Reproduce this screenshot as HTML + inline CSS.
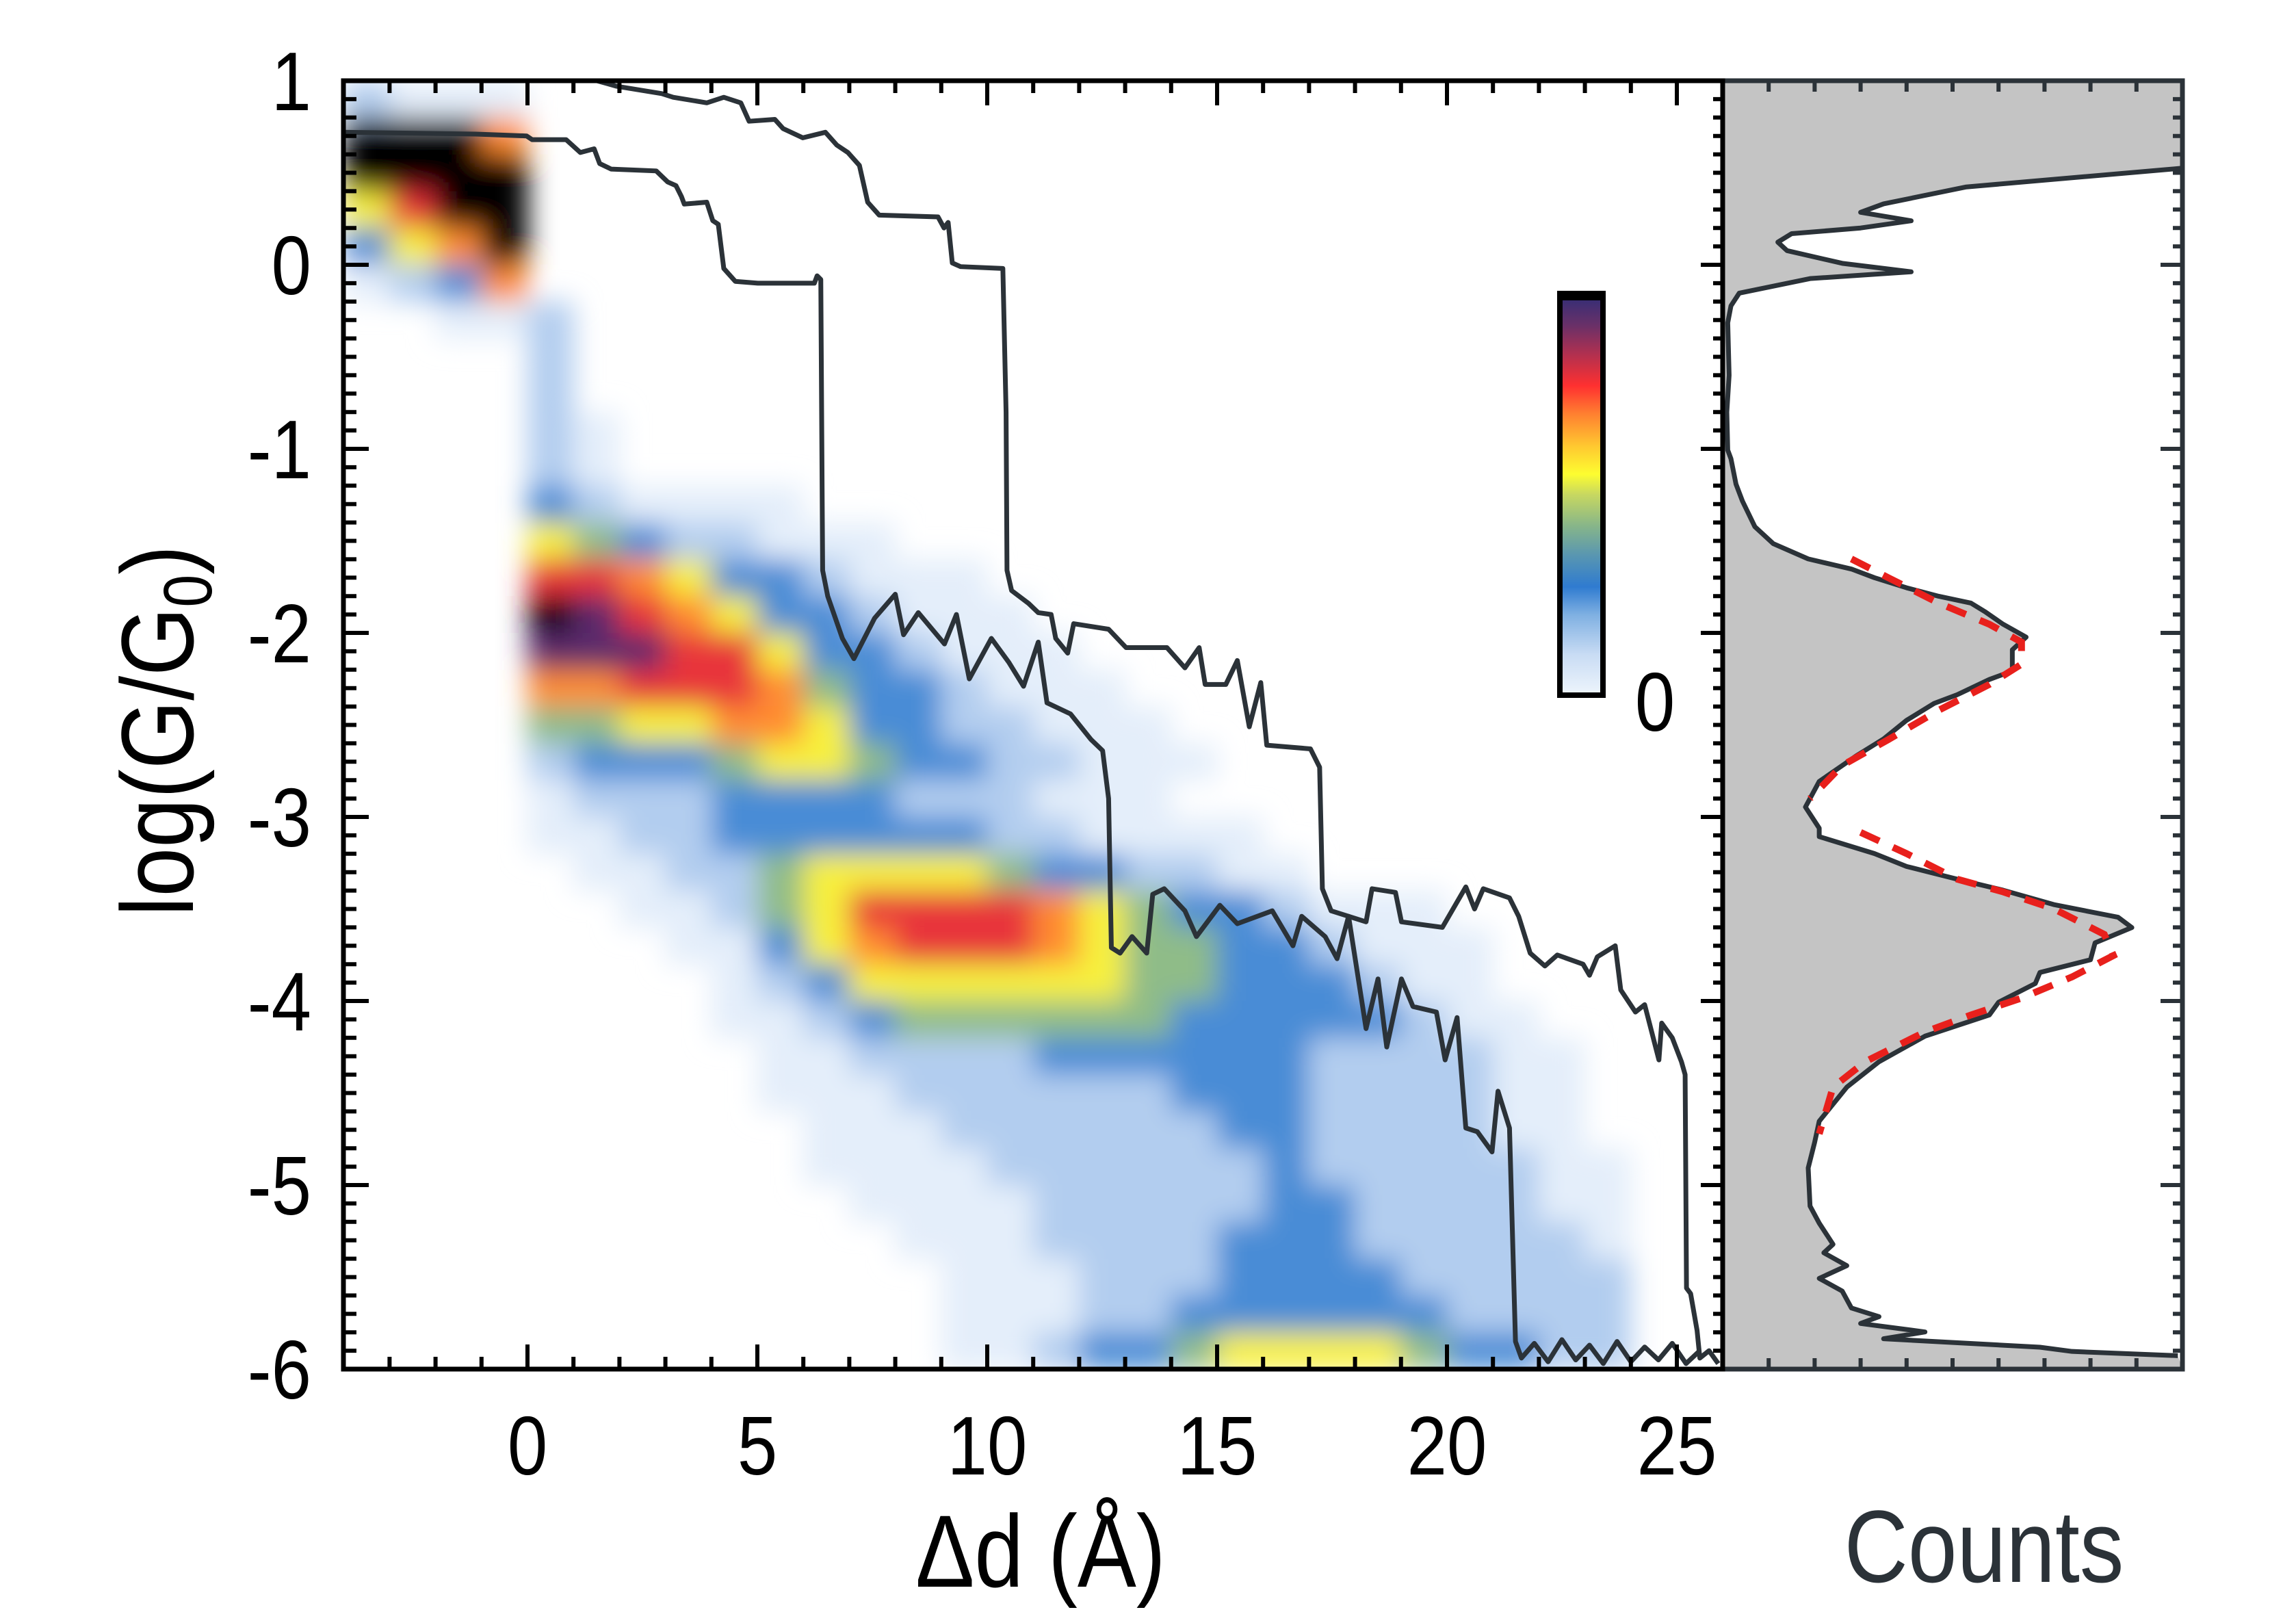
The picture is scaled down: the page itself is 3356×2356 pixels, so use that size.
<!DOCTYPE html>
<html><head><meta charset="utf-8"><style>
html,body{margin:0;padding:0;background:#fff}
svg{display:block}
text{font-family:"Liberation Sans",Arial,sans-serif}
</style></head><body>
<svg id="chart" xmlns="http://www.w3.org/2000/svg" width="3356" height="2356" viewBox="0 0 3356 2356">
<defs>
<clipPath id="plotClip"><rect x="502" y="118" width="2016" height="1883"/></clipPath>
<filter id="soft" x="-5%" y="-5%" width="110%" height="110%"><feGaussianBlur stdDeviation="20"/></filter>
<linearGradient id="cbGrad" x1="0" y1="1" x2="0" y2="0">
<stop offset="0" stop-color="#eef5fc"/><stop offset="0.1" stop-color="#c9dcf4"/><stop offset="0.2" stop-color="#7fb0e2"/>
<stop offset="0.27" stop-color="#2f7bd0"/><stop offset="0.35" stop-color="#5a97b0"/><stop offset="0.42" stop-color="#86b58a"/>
<stop offset="0.5" stop-color="#c8d860"/><stop offset="0.55" stop-color="#fdfd30"/><stop offset="0.62" stop-color="#ffc830"/>
<stop offset="0.7" stop-color="#ff8030"/><stop offset="0.77" stop-color="#ff3030"/><stop offset="0.85" stop-color="#b03050"/>
<stop offset="0.92" stop-color="#6a3068"/><stop offset="1" stop-color="#2e2e78"/>
</linearGradient>
</defs>
<g clip-path="url(#plotClip)"><g id="heat" filter="url(#soft)"></g></g>
<g id="counts"></g>
<g id="traces" clip-path="url(#plotClip)"></g>
<g id="axes"></g>
<g>
<rect x="2280" y="429" width="63" height="587" fill="url(#cbGrad)" stroke="#000" stroke-width="8"/>
<rect x="2276" y="425" width="71" height="14" fill="#000"/>
<text transform="translate(2419,1068) scale(0.86,1)" font-size="122" text-anchor="middle">0</text>
</g>
<text transform="translate(1521,2319) scale(0.86,1)" font-size="150" text-anchor="middle">Δd (Å)</text>
<text transform="translate(282,1068) rotate(-90) scale(0.86,1)" font-size="150" text-anchor="middle">log(G/G<tspan font-size="100" dy="27">0</tspan><tspan dy="-27">)</tspan></text>
<text transform="translate(2900,2312) scale(0.86,1)" font-size="150" text-anchor="middle" fill="#2b3238">Counts</text>
</svg>
<script>
// ---- data ----
const xTicks = [0,5,10,15,20,25];
const yTicks = [1,0,-1,-2,-3,-4,-5,-6];
const heatRows = [
"2111","9996","9999","5799","3569","1236","00112","00002","00002","000021","000021",
"0000321111","000054322111","00007765332111","000098765332111","0000888775332111",
"00006677764332111","000044556653322111","0000233345543322111","000012223333222111",
"00001122333333221111","000001122455554332211","000000112457777654332111",
"0000000113567776544332111","0000000012355555544333211","00000000112344444433333211",
"000000000112222333333222211","000000000111222222333222211","000000000011122222233222211",
"0000000000111122222232222211","0000000000011112222233222211","0000000000001112222333222221",
"0000000000000111222333322222","0000000000000111223333332222","0000000000000112334555543322"
];
const heatColors = ["#ffffff","#e4eefa","#b2cdef","#4a8cd6","#8fbc88","#f7f03c","#ff8c30","#e8343a","#5c2c6c","#000000"];
const traceA = [[-4,0.72],[-1.12,0.71],[-0.02,0.70],[0.1,0.68],[0.84,0.68],[1.15,0.61],[1.45,0.63],[1.57,0.55],[1.82,0.52],[2.8,0.51],[3.05,0.45],[3.23,0.43],[3.35,0.37],[3.41,0.33],[3.9,0.34],[4.03,0.24],[4.15,0.22],[4.27,-0.02],[4.52,-0.09],[5.01,-0.10],[6.24,-0.10],[6.3,-0.06],[6.38,-0.08],[6.42,-1.66],[6.53,-1.80],[6.85,-2.03],[7.1,-2.14],[7.55,-1.92],[8.0,-1.79],[8.18,-2.01],[8.5,-1.89],[9.07,-2.06],[9.33,-1.90],[9.61,-2.25],[10.09,-2.03],[10.47,-2.16],[10.79,-2.29],[11.11,-2.05],[11.3,-2.38],[11.81,-2.44],[12.26,-2.58],[12.51,-2.64],[12.64,-2.90],[12.7,-3.71],[12.89,-3.74],[13.15,-3.65],[13.47,-3.74],[13.6,-3.42],[13.85,-3.39],[14.3,-3.51],[14.55,-3.65],[15.06,-3.48],[15.44,-3.58],[16.2,-3.51],[16.65,-3.70],[16.84,-3.54],[17.35,-3.65],[17.61,-3.77],[17.86,-3.54],[18.24,-4.15],[18.5,-3.88],[18.69,-4.25],[19.01,-3.88],[19.26,-4.03],[19.77,-4.06],[19.96,-4.32],[20.22,-4.09],[20.41,-4.69],[20.66,-4.71],[20.98,-4.82],[21.11,-4.49],[21.36,-4.69],[21.49,-5.85],[21.62,-5.94],[21.9,-5.86],[22.2,-5.96],[22.5,-5.84],[22.8,-5.95],[23.1,-5.87],[23.4,-5.97],[23.7,-5.85],[24.0,-5.96],[24.3,-5.88],[24.6,-5.95],[24.9,-5.86],[25.2,-5.97],[25.5,-5.9]];
const traceB = [[1.51,1.0],[1.94,0.97],[2.92,0.93],[3.17,0.91],[3.9,0.88],[4.27,0.91],[4.64,0.88],[4.82,0.78],[5.38,0.79],[5.56,0.74],[5.99,0.69],[6.48,0.72],[6.73,0.65],[6.97,0.61],[7.22,0.54],[7.4,0.34],[7.65,0.27],[8.93,0.26],[9.06,0.20],[9.15,0.23],[9.24,0.01],[9.42,-0.01],[10.34,-0.02],[10.41,-0.8],[10.43,-1.66],[10.53,-1.77],[10.9,-1.84],[11.11,-1.89],[11.39,-1.9],[11.49,-2.03],[11.75,-2.11],[11.88,-1.95],[12.64,-1.98],[13.02,-2.08],[13.91,-2.08],[14.3,-2.19],[14.61,-2.08],[14.74,-2.28],[15.19,-2.28],[15.44,-2.15],[15.7,-2.51],[15.95,-2.27],[16.08,-2.61],[17.03,-2.63],[17.23,-2.73],[17.29,-3.39],[17.48,-3.51],[18.24,-3.57],[18.37,-3.39],[18.88,-3.41],[19.01,-3.57],[19.9,-3.6],[20.41,-3.38],[20.6,-3.5],[20.79,-3.39],[21.36,-3.44],[21.56,-3.54],[21.81,-3.74],[22.13,-3.81],[22.4,-3.75],[22.96,-3.8],[23.1,-3.86],[23.27,-3.76],[23.66,-3.7],[23.78,-3.94],[24.1,-4.06],[24.3,-4.02],[24.61,-4.32],[24.67,-4.12],[24.9,-4.2],[25.1,-4.33],[25.18,-4.4],[25.21,-5.56],[25.3,-5.59],[25.44,-5.79],[25.5,-5.94],[25.7,-5.9],[25.9,-5.97]];
const countsHist = [[0.525,100],[0.423,53],[0.331,35],[0.285,30],[0.239,41],[0.20,30],[0.169,15],[0.123,12],[0.077,14],[0.008,26],[-0.038,41],[-0.075,19],[-0.154,3.6],[-0.223,1.8],[-0.315,1.1],[-0.6,1.4],[-0.8,0.9],[-1.007,1.1],[-1.054,1.8],[-1.192,2.9],[-1.284,4.3],[-1.423,7],[-1.515,11],[-1.598,18.6],[-1.653,28],[-1.700,33],[-1.755,40],[-1.801,47],[-1.838,54],[-1.884,57],[-1.953,61],[-2.023,66],[-2.092,63],[-2.207,63],[-2.253,58],[-2.336,51],[-2.383,46],[-2.475,40],[-2.576,35],[-2.669,29],[-2.807,21],[-2.946,18],[-3.061,21],[-3.107,21],[-3.199,33],[-3.269,40],[-3.338,51],[-3.398,61],[-3.476,72],[-3.545,86],[-3.601,89],[-3.684,81],[-3.776,80],[-3.845,69],[-3.905,68],[-4.007,60],[-4.076,58],[-4.191,44],[-4.330,34],[-4.468,27],[-4.653,21],[-4.768,20],[-4.907,18.6],[-5.114,19],[-5.207,21],[-5.322,24],[-5.368,22],[-5.438,27],[-5.507,21],[-5.576,26],[-5.668,28],[-5.715,34],[-5.752,30],[-5.798,44],[-5.835,35],[-5.881,69],[-5.904,76],[-5.927,99]];
const fitPeak1 = [[-1.598,28],[-1.700,36],[-1.838,47],[-1.953,58],[-2.05,65],[-2.17,65],[-2.28,58],[-2.42,47],[-2.58,36],[-2.72,26],[-2.9,19]];
const fitPeak2 = [[-3.084,30],[-3.199,40],[-3.338,51],[-3.407,61],[-3.499,72],[-3.638,83],[-3.753,85],[-3.869,76],[-3.984,65],[-4.076,54],[-4.168,44],[-4.330,31],[-4.468,24],[-4.722,21]];

// ---- scales ----
const L=502,R=2518,T=118,B=2001,CR=3190;
const X=a=>771+67.2*a;
const Y=v=>T+(1-v)*269;
const U=c=>R+(CR-R)*c/100;
const NS="http://www.w3.org/2000/svg";
function mk(tag,attrs,parent){const e=document.createElementNS(NS,tag);for(const k in attrs)e.setAttribute(k,attrs[k]);parent.appendChild(e);return e;}

// heatmap
const heat=document.getElementById('heat');
heatRows.forEach((row,ri)=>{
  const s=row.padEnd(30,'0');
  const yTop=1-0.2*ri;
  for(let ci=0;ci<30;ci++){
    const v=+s[ci]; if(!v) continue;
    const xL=-4+ci;
    const r=mk('rect',{x:X(xL),y:Y(yTop),width:X(xL+1)-X(xL)+0.5,height:Y(yTop-0.2)-Y(yTop)+0.5,fill:heatColors[v]},heat);
    
    
  }
});

// counts panel
const cg=document.getElementById('counts');
let fillPts=`${R},${T} ${CR},${T} `+countsHist.map(p=>`${U(p[1])},${Y(p[0])}`).join(' ')+` ${CR},${B} ${R},${B}`;
const cf=mk('polygon',{points:fillPts,fill:'#c4c4c4'},cg);


const cl=mk('polyline',{points:countsHist.map(p=>`${U(p[1])},${Y(p[0])}`).join(' '),fill:'none',stroke:'#2b3238','stroke-width':7,'stroke-linejoin':'round'},cg);


[fitPeak1,fitPeak2].forEach((f,i)=>{
  const e=mk('polyline',{points:f.map(p=>`${U(p[1])},${Y(p[0])}`).join(' '),fill:'none',stroke:'#e8201c','stroke-width':10,'stroke-dasharray':'30 22'},cg);
  
  
});

// traces
const tg=document.getElementById('traces');
[traceA,traceB].forEach((t,i)=>{
  const e=mk('polyline',{points:t.map(p=>`${X(p[0])},${Y(p[1])}`).join(' '),fill:'none',stroke:'#2b3238','stroke-width':7,'stroke-linejoin':'round'},tg);
  
  
});

// axes
const ag=document.getElementById('axes');
let d='';
for(let a=-4;a<=26;a++){const x=X(a),len=(a%5===0)?36:18;d+=`M${x},${T}v${len}M${x},${B}v${-len}`;}
for(let k=-60;k<=10;k++){const y=Y(k/10),len=(k%10===0)?37:19,len2=(k%10===0)?32:14;d+=`M${L},${y}h${len}M${R},${y}h${-len2}`;}
const tk=mk('path',{d:d,stroke:'#000','stroke-width':6,fill:'none'},ag);


let d2='';
for(let k=1;k<10;k++){const x=R+67.2*k;d2+=`M${x},${T}v16M${x},${B}v-16`;}
for(let k=-60;k<=10;k++){const y=Y(k/10),len=(k%10===0)?32:14;d2+=`M${CR},${y}h${-len}`;}
const ct=mk('path',{d:d2,stroke:'#2b3238','stroke-width':6,fill:'none'},ag);


const cfr=mk('rect',{x:R,y:T,width:CR-R,height:B-T,fill:'none',stroke:'#2b3238','stroke-width':7},ag);


const fr=mk('rect',{x:L,y:T,width:R-L,height:B-T,fill:'none',stroke:'#000','stroke-width':7},ag);


xTicks.forEach(a=>{
  const t=mk('text',{transform:`translate(${X(a)},2155) scale(0.86,1)`,'font-size':122,'text-anchor':'middle'},ag);t.textContent=a;
  
  
});
yTicks.forEach(v=>{
  const t=mk('text',{transform:`translate(455,${Y(v)+43}) scale(0.86,1)`,'font-size':122,'text-anchor':'end'},ag);t.textContent=v;
  
  
});
</script>
</body></html>
